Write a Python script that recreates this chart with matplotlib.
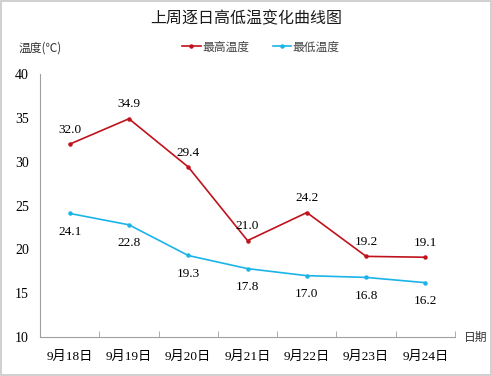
import numpy as np
import matplotlib.pyplot as plt
from matplotlib.patches import Rectangle

dates = ["9月18日", "9月19日", "9月20日", "9月21日", "9月22日", "9月23日", "9月24日"]
high = [32.0, 34.9, 29.4, 21.0, 24.2, 19.2, 19.1]
low = [24.1, 22.8, 19.3, 17.8, 17.0, 16.8, 16.2]

fam = ['Liberation Serif', 'Noto Sans CJK SC']
cjk = ['Noto Sans CJK SC', 'DejaVu Sans']
plt.rcParams['font.family'] = fam

red = '#C0121C'
blue = '#1AB4E8'

fig = plt.figure(figsize=(4.92, 3.76), dpi=100)
fig.patches.append(Rectangle((0.002, 0.003), 0.995, 0.994, transform=fig.transFigure,
                             fill=False, edgecolor='#c8c8c8', linewidth=1.2))
ax = fig.add_axes([0.0813, 0.1037, 0.8437, 0.6993])

x = np.arange(len(dates))
ax.plot(x, high, color=red, lw=1.2, marker='o', ms=2.2, label='最高温度')
ax.plot(x, low, color=blue, lw=1.2, marker='o', ms=2.2, label='最低温度')

for i in x:
    ax.annotate(f"{high[i]:.1f}", (i, high[i]), xytext=(0, 6), textcoords='offset points',
                ha='center', va='bottom', fontsize=9.5)
    ax.annotate(f"{low[i]:.1f}", (i, low[i]), xytext=(0, -9), textcoords='offset points',
                ha='center', va='top', fontsize=9.5)

ax.set_xlim(-0.5, len(dates) - 0.5)
ax.set_ylim(10, 40)
ax.set_yticks(range(10, 41, 5))
ax.set_xticks(x)
ax.set_xticklabels(dates, fontsize=9.5)
ax.set_xticks(np.arange(-0.5, len(dates)), minor=True)
ax.tick_params(axis='x', which='major', length=0, pad=10)
ax.tick_params(axis='x', which='minor', length=4, direction='in', color='#a0a0a0')
ax.tick_params(axis='y', length=0, pad=13, labelsize=10)
for t in ax.get_yticklabels():
    t.set_horizontalalignment('center')

for s in ['top', 'right']:
    ax.spines[s].set_visible(False)
for s in ['left', 'bottom']:
    ax.spines[s].set_color('#a0a0a0')
    ax.spines[s].set_linewidth(0.8)

fig.text(0.5, 0.95, '上周逐日高低温变化曲线图', ha='center', va='center', fontsize=11.5,
         family=cjk, color='#1a1a1a')
fig.text(0.037, 0.872, '温度(℃)', ha='left', va='center', fontsize=8.5, family=cjk, color='#333333')
fig.text(0.942, 0.104, '日期', ha='left', va='center', fontsize=8.5, family=cjk, color='#333333')

leg = ax.legend(loc='center', ncol=2, frameon=False, prop={'family': cjk, 'size': 8.5},
                handlelength=1.6, handletextpad=0.1, columnspacing=2.0)
leg.set_bbox_to_anchor((0.53, 0.875), transform=fig.transFigure)
for t in leg.get_texts():
    t.set_color('#444444')

fig.savefig('out.png', dpi=100)
